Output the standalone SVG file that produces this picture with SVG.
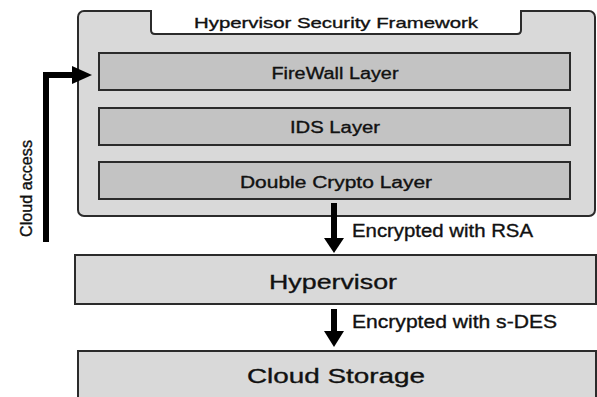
<svg xmlns="http://www.w3.org/2000/svg" width="597" height="397" viewBox="0 0 597 397">
<defs>
<style>
.box{fill:#d9d9d9;stroke:#2b2b2b;stroke-width:2}
.layer{fill:#c3c3c3;stroke:#2b2b2b;stroke-width:2}
.tab{fill:#ffffff;stroke:#2b2b2b;stroke-width:2}
text{font-family:"Liberation Sans",Arial,sans-serif;fill:#111;stroke:#111;stroke-width:0.35}
.lt{font-size:16px;text-anchor:middle}
.big{font-size:21px;text-anchor:middle}
.lbl{font-size:18px}
.conn{stroke:#000;stroke-width:6;fill:none}
.head{fill:#000}
</style>
</defs>
<rect width="597" height="397" fill="#ffffff"/>
<g id="framework">
<rect class="box" x="78" y="11" width="517" height="205" rx="6"/>
<path class="tab" d="M151,10 V30 Q151,34 155,34 H517 Q521,34 521,30 V10"/>
<text x="336" y="28" font-size="15" text-anchor="middle" textLength="284" lengthAdjust="spacingAndGlyphs">Hypervisor Security Framework</text>
</g>
<g id="firewall">
<rect class="layer" x="99" y="53" width="471" height="37"/>
<text class="lt" x="335" y="79" textLength="127" lengthAdjust="spacingAndGlyphs">FireWall Layer</text>
</g>
<g id="ids">
<rect class="layer" x="99" y="108" width="471" height="37"/>
<text class="lt" x="335" y="133" textLength="90" lengthAdjust="spacingAndGlyphs">IDS Layer</text>
</g>
<g id="crypto">
<rect class="layer" x="99" y="162" width="471" height="37"/>
<text class="lt" x="336" y="188" textLength="192" lengthAdjust="spacingAndGlyphs">Double Crypto Layer</text>
</g>
<g id="hypervisor">
<rect class="box" x="75" y="255" width="521" height="49"/>
<text class="big" x="333" y="289" textLength="128" lengthAdjust="spacingAndGlyphs">Hypervisor</text>
</g>
<g id="storage">
<rect class="box" x="78" y="351" width="518" height="50"/>
<text class="big" x="336" y="383" textLength="178" lengthAdjust="spacingAndGlyphs">Cloud Storage</text>
</g>
<g id="connectors">
<path class="conn" d="M46,242 V75 H74"/>
<polygon class="head" points="72,66 92,75 72,84"/>
<path class="conn" d="M334,203 V240"/>
<polygon class="head" points="324,238 344,238 334,253"/>
<path class="conn" d="M334,309 V333"/>
<polygon class="head" points="324,331 344,331 334,347"/>
<text x="0" y="0" font-size="16" transform="translate(32,188.5) rotate(-90)" text-anchor="middle" textLength="97" lengthAdjust="spacingAndGlyphs">Cloud access</text>
<text class="lbl" x="352" y="237" textLength="181" lengthAdjust="spacingAndGlyphs">Encrypted with RSA</text>
<text class="lbl" x="352" y="328" textLength="205" lengthAdjust="spacingAndGlyphs">Encrypted with s-DES</text>
</g>
</svg>
